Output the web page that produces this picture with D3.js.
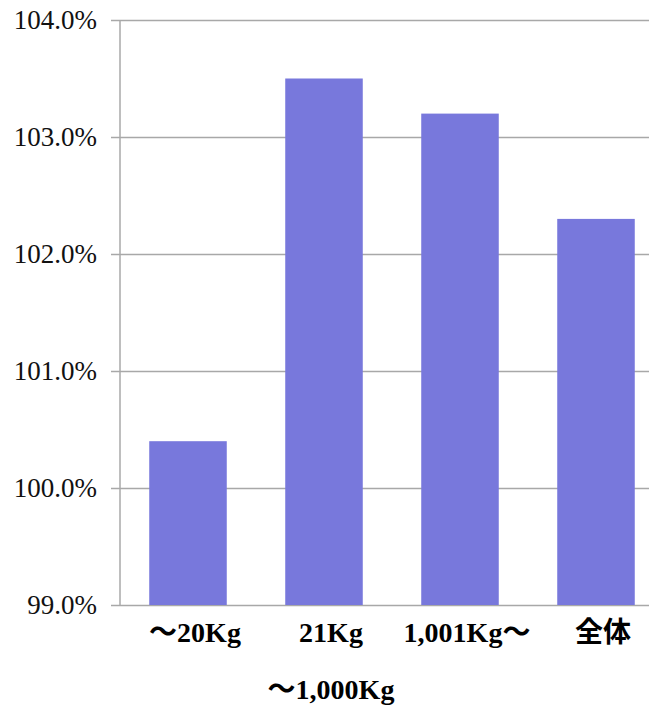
<!DOCTYPE html>
<html>
<head>
<meta charset="utf-8">
<script src="https://cdn.jsdelivr.net/npm/d3@7"></script>
<style>
  body { margin: 0; background: #fff; }
  svg { display: block; }
</style>
</head>
<body>
<div id="chart"></div>
<script>
// chart data
const categories = ['～20Kg', '21Kg\n～1,000Kg', '1,001Kg～', '全体'];
const values = [100.4, 103.5, 103.2, 102.3];
const yTicks = [99, 100, 101, 102, 103, 104];

const width = 649, height = 706;
const margin = { top: 20, right: -15, bottom: 101, left: 120 };

const svg = d3.select('#chart').append('svg')
  .attr('width', width)
  .attr('height', height);

const x = d3.scaleBand()
  .domain(categories)
  .range([margin.left, width - margin.right])
  .paddingInner(0.43)
  .paddingOuter(0.215);

const y = d3.scaleLinear()
  .domain([99, 104])
  .range([height - margin.bottom, margin.top]);

// gridlines + y axis
const yAxis = d3.axisLeft(y)
  .tickValues(yTicks)
  .tickSize(-(width - margin.left + 10))
  .tickFormat(d => d.toFixed(1) + '%');

const gy = svg.append('g')
  .attr('transform', `translate(${margin.left - 9},0)`)
  .attr('font-family', '"Liberation Serif", "Times New Roman", serif')
  .attr('font-size', 27)
  .call(yAxis);
gy.select('.domain').remove();
gy.selectAll('.tick line')
  .attr('stroke', '#a8a8a8')
  .attr('stroke-width', 1.5);
gy.selectAll('.tick text')
  .attr('x', -14)
  .attr('fill', '#111')
  .style('font-family', '"Liberation Serif", "Times New Roman", serif')
  .style('font-size', '27px');

// vertical axis line
svg.append('line')
  .attr('x1', margin.left).attr('x2', margin.left)
  .attr('y1', y(104)).attr('y2', y(99))
  .attr('stroke', '#a8a8a8')
  .attr('stroke-width', 1.5);

// bars
svg.selectAll('rect.bar')
  .data(values)
  .join('rect')
  .attr('class', 'bar')
  .attr('x', (d, i) => x(categories[i]))
  .attr('y', d => y(d))
  .attr('width', x.bandwidth())
  .attr('height', d => y(99) - y(d))
  .attr('fill', '#7878dc');

// category labels
const labels = svg.append('g')
  .selectAll('text')
  .data(categories)
  .join('text')
  .attr('x', d => x(d) + x.bandwidth() / 2 + 7)
  .attr('y', y(99) + 37)
  .attr('text-anchor', 'middle')
  .attr('fill', '#000')
  .style('font-family', '"Liberation Serif", "Noto Sans CJK JP", serif')
  .style('font-weight', 'bold')
  .style('font-size', '28px');

labels.each(function(d) {
  const parts = d.split('\n');
  const t = d3.select(this);
  parts.forEach((p, i) => {
    t.append('tspan')
      .attr('x', t.attr('x'))
      .attr('dy', i === 0 ? 0 : 57)
      .text(p);
  });
});
</script>
</body>
</html>
